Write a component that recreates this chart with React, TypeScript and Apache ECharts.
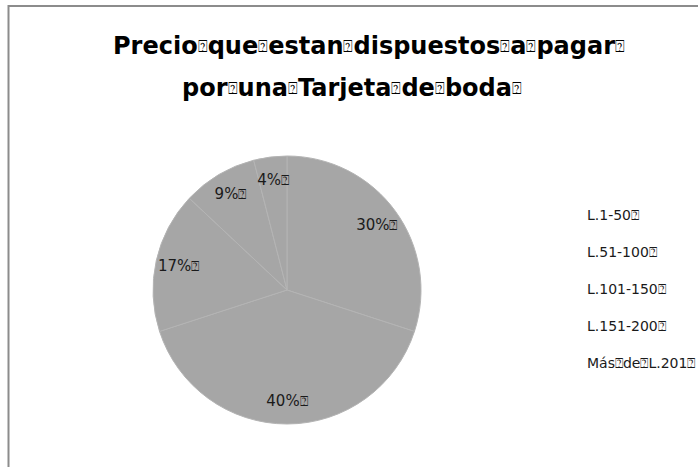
import React, { useEffect, useRef } from "react";
import * as echarts from "echarts";

const BOX = "\u2370";
const categories = ["L.1-50", "L.51-100", "L.101-150", "L.151-200", "Más" + BOX + "de" + BOX + "L.201"];
const values = [30, 40, 17, 9, 4];
const titleLine1 = "Precio" + BOX + "que" + BOX + "estan" + BOX + "dispuestos" + BOX + "a" + BOX + "pagar" + BOX;
const titleLine2 = "por" + BOX + "una" + BOX + "Tarjeta" + BOX + "de" + BOX + "boda" + BOX;
const sliceColor = "#a6a6a6";

const boxify = (s: string) => s.split(BOX).join("{b|" + BOX + "}");

export default function App() {
  const ref = useRef<HTMLDivElement>(null);
  useEffect(() => {
    if (!ref.current) return;
    const chart = echarts.init(ref.current, null, { renderer: "svg" });
    const data = categories.map((name, i) => ({ name, value: values[i] }));
    const titleStyle = {
      fontFamily: "DejaVu Sans",
      fontWeight: "bold",
      fontSize: 24,
      lineHeight: 30,
      color: "#000000",
      rich: {
        b: { fontFamily: "DejaVu Sans", fontSize: 16, lineHeight: 30, color: "#000000", fontWeight: "normal" },
      },
    };
    chart.setOption({
      animation: false,
      backgroundColor: "#ffffff",
      title: [
        { text: boxify(titleLine1), left: 369, top: 31, textAlign: "center", padding: 0, textStyle: titleStyle },
        { text: boxify(titleLine2), left: 352, top: 73, textAlign: "center", padding: 0, textStyle: titleStyle },
      ],
      legend: {
        orient: "vertical",
        left: 582,
        top: 208,
        padding: 0,
        icon: "none",
        itemWidth: 0,
        itemHeight: 14,
        itemGap: 23,
        selectedMode: false,
        data: categories,
        formatter: (n: string) => boxify(n + BOX),
        textStyle: {
          fontFamily: "DejaVu Sans",
          fontSize: 14,
          lineHeight: 14,
          color: "#1a1a1a",
          rich: { b: { fontFamily: "DejaVu Sans", fontSize: 14, lineHeight: 14, color: "#1a1a1a" } },
        },
      },
      graphic: [
        {
          type: "rect",
          shape: { x: 8.5, y: 6, width: 720, height: 480 },
          style: { fill: "none", stroke: "#8c8c8c", lineWidth: 2 },
          silent: true,
        },
      ],
      series: [
        {
          type: "pie",
          center: [287, 290],
          radius: [0, 134],
          startAngle: 90,
          clockwise: true,
          label: { show: false },
          labelLine: { show: false },
          itemStyle: { color: sliceColor, borderColor: "#b4b4b4", borderWidth: 1 },
          emphasis: { disabled: true },
          data,
        },
        {
          type: "pie",
          center: [287, 290],
          radius: [82, 134],
          startAngle: 90,
          clockwise: true,
          silent: true,
          itemStyle: { color: "rgba(0,0,0,0)", borderWidth: 0 },
          label: {
            show: true,
            position: "inside",
            formatter: (p: any) => p.value + "%{b|" + BOX + "}",
            fontFamily: "DejaVu Sans",
            fontSize: 15,
            color: "#1a1a1a",
            rich: { b: { fontFamily: "DejaVu Sans", fontSize: 14, color: "#1a1a1a" } },
          },
          labelLine: { show: false },
          emphasis: { disabled: true },
          data,
        },
      ],
    });
    return () => chart.dispose();
  }, []);
  return (
    <div
      ref={ref}
      style={{ position: "absolute", left: 0, top: 0, width: 698, height: 467 }}
    />
  );
}
